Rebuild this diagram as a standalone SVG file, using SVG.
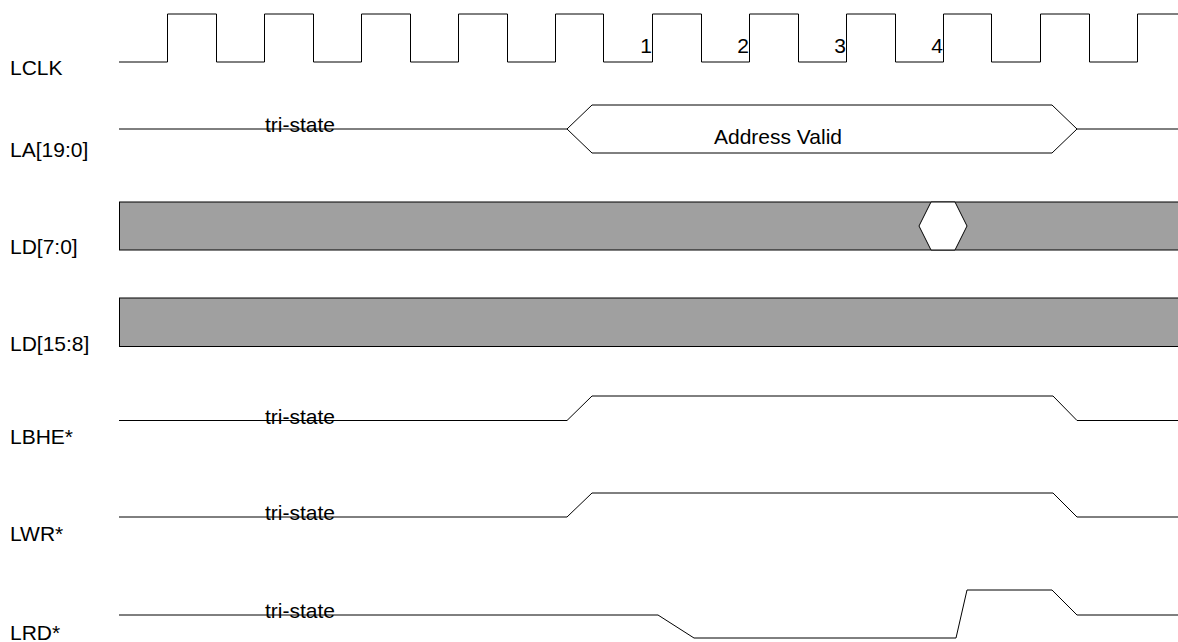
<svg xmlns="http://www.w3.org/2000/svg" width="1178" height="642" viewBox="0 0 1178 642">
<style>
.w{fill:none;stroke:#000;stroke-width:1}
.bus{fill:#a0a0a0;stroke:#000;stroke-width:1}
.hex{fill:#fff;stroke:#000;stroke-width:1}
text{font-family:"Liberation Sans",Arial,sans-serif;font-size:21px;fill:#000}
</style>
<rect width="1178" height="642" fill="#fff"/>
<g id="lclk">
<text x="10" y="75">LCLK</text>
<path class="w" d="M119,62 H167.5 V14 H216.5 V62 H264.5 V14 H313.5 V62 H361.5 V14 H410.5 V62 H458.5 V14 H507.5 V62 H555.5 V14 H603.5 V62 H652.5 V14 H701.5 V62 H749.5 V14 H798.5 V62 H846.5 V14 H895.5 V62 H943.5 V14 H991.5 V62 H1040.5 V14 H1089.5 V62 H1137.5 V14 H1178"/>
<text x="652" y="53" text-anchor="end">1</text>
<text x="749" y="53" text-anchor="end">2</text>
<text x="846" y="53" text-anchor="end">3</text>
<text x="943" y="53" text-anchor="end">4</text>
</g>
<g id="la">
<text x="10" y="157">LA[19:0]</text>
<path class="w" d="M119,129 H567 M1077,129 H1178"/>
<polygon class="hex" points="567,129 592,105 1052,105 1077,129 1052,153 592,153"/>
<text x="265" y="132">tri-state</text>
<text x="714" y="144">Address Valid</text>
</g>
<g id="ld70">
<text x="10" y="254">LD[7:0]</text>
<rect class="bus" x="119.5" y="202" width="1070" height="48"/>
<polygon class="hex" points="919,226 931,202 955,202 967,226 955,250 931,250"/>
</g>
<g id="ld158">
<text x="10" y="351">LD[15:8]</text>
<rect class="bus" x="119.5" y="298" width="1070" height="48.5"/>
</g>
<g id="lbhe">
<text x="10" y="444">LBHE*</text>
<path class="w" d="M119,420.5 H567 L592,396 H1053 L1077,420.5 H1178"/>
<text x="265" y="424">tri-state</text>
</g>
<g id="lwr">
<text x="10" y="541">LWR*</text>
<path class="w" d="M119,517 H567 L592,493 H1053 L1077,517 H1178"/>
<text x="265" y="520">tri-state</text>
</g>
<g id="lrd">
<text x="10" y="640">LRD*</text>
<path class="w" d="M119,615 H658 L694,638 H956 L967,590 H1052 L1077,615 H1178"/>
<text x="265" y="618">tri-state</text>
</g>
</svg>
